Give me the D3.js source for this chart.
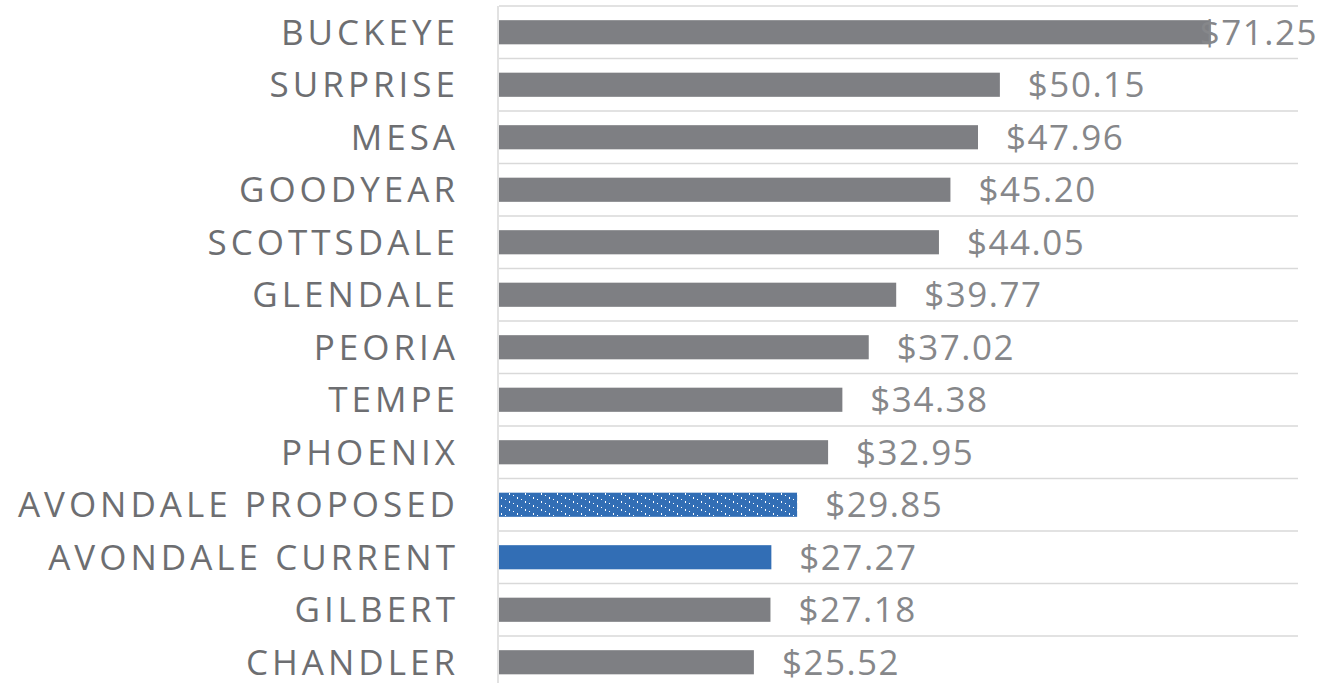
<!DOCTYPE html>
<html><head><meta charset="utf-8">
<script src="https://cdn.jsdelivr.net/npm/d3@7"></script>
<style>html,body{margin:0;padding:0;background:#fff;}svg{display:block;}</style>
</head><body>
<svg id="c" width="1324" height="683"></svg>
<script>
const categories = ["BUCKEYE","SURPRISE","MESA","GOODYEAR","SCOTTSDALE","GLENDALE","PEORIA","TEMPE","PHOENIX","AVONDALE PROPOSED","AVONDALE CURRENT","GILBERT","CHANDLER"];
const values = [71.25,50.15,47.96,45.20,44.05,39.77,37.02,34.38,32.95,29.85,27.27,27.18,25.52];
const kinds = ["gray","gray","gray","gray","gray","gray","gray","gray","gray","pattern","blue","gray","gray"];
const xMax = 80;

const svg = d3.select("#c");
const mLeft = 499, mRight = 1298, mTop = 6, band = 52.5;
const x = d3.scaleLinear().domain([0, xMax]).range([mLeft, mRight]);
const y = d3.scaleBand().domain(categories).range([mTop, mTop + band * categories.length]).paddingInner(0.54).paddingOuter(0.27);

const defs = svg.append("defs");
const pat = defs.append("pattern").attr("id","dots").attr("patternUnits","userSpaceOnUse")
  .attr("width",16).attr("height",8).attr("x",mLeft).attr("y",0);
pat.append("rect").attr("width",16).attr("height",8).attr("fill","#326eb5");
[[2,1],[10,5],[6,3],[14,7]].forEach(([a,b],i)=>{
  pat.append("rect").attr("x",a).attr("y",b).attr("width",1).attr("height",i<2?2:1).attr("fill","#fff");
});

const bounds = d3.range(categories.length + 1).map(i => mTop + i * band);
svg.append("g").selectAll("line").data(bounds).join("line")
  .attr("x1", mLeft).attr("x2", mRight).attr("y1", d => d).attr("y2", d => d)
  .attr("stroke", "#d9d9d9").attr("stroke-width", 1.3);
svg.append("line").attr("x1", mLeft-1).attr("x2", mLeft-1).attr("y1", mTop).attr("y2", 683)
  .attr("stroke", "#d9d9d9").attr("stroke-width", 1.5);

const fill = k => k === "gray" ? "#7e7f83" : k === "blue" ? "#326eb5" : "url(#dots)";
svg.append("g").selectAll("rect").data(categories).join("rect")
  .attr("x", x(0)).attr("y", (d) => y(d))
  .attr("width", (d,i) => x(values[i]) - x(0)).attr("height", y.bandwidth())
  .attr("fill", (d,i) => fill(kinds[i]));

svg.append("g").selectAll("text").data(categories).join("text")
  .attr("x", 455 + 4).attr("y", d => y(d) + y.bandwidth()/2 + 12.5)
  .attr("text-anchor","end")
  .style("font-family","'Open Sans', sans-serif").style("font-size","35px")
  .style("letter-spacing","4px").attr("fill","#6d6e71")
  .text(d => d);

const fmt = d3.format("$.2f");
const vl = svg.append("g").selectAll("text").data(categories).join("text")
  .attr("y", d => y(d) + y.bandwidth()/2 + 12.5)
  .style("font-family","'Open Sans', sans-serif").style("font-size","35px")
  .style("letter-spacing","1.5px")
  .attr("fill","#86878a")
  .text((d,i) => fmt(values[i]));
vl.each(function(d,i){
  const w = this.getComputedTextLength();
  const xx = Math.min(x(values[i]) + 28, 1318 - w);
  d3.select(this).attr("x", xx);
});
</script>
</body></html>
